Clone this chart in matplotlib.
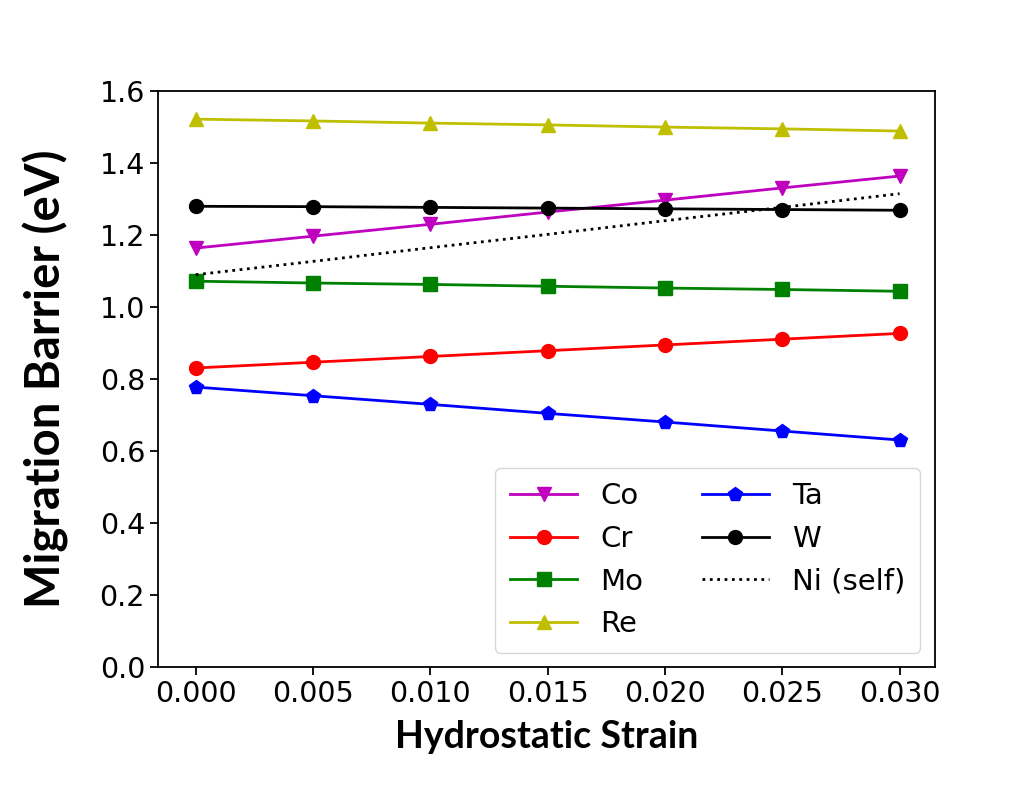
import numpy as np
import matplotlib.pyplot as plt

strain = [0.000, 0.005, 0.010, 0.015, 0.020, 0.025, 0.030]

co = [1.164, 1.197, 1.230, 1.264, 1.297, 1.331, 1.364]
cr = [0.831, 0.847, 0.863, 0.879, 0.895, 0.911, 0.927]
mo = [1.072, 1.067, 1.063, 1.058, 1.053, 1.049, 1.044]
re = [1.522, 1.517, 1.511, 1.506, 1.500, 1.495, 1.489]
ta = [0.778, 0.754, 0.730, 0.705, 0.681, 0.656, 0.631]
w = [1.280, 1.279, 1.277, 1.275, 1.273, 1.271, 1.269]
ni = [1.090, 1.127, 1.165, 1.202, 1.240, 1.277, 1.315]

fig = plt.figure(figsize=(10.34, 7.85), dpi=100)
ax = fig.add_axes([0.153, 0.150, 0.751, 0.734])

ms = 10
lw = 2
ax.plot(strain, co, 'm-v', label='Co', ms=ms, lw=lw)
ax.plot(strain, cr, 'r-o', label='Cr', ms=ms, lw=lw)
ax.plot(strain, mo, 'g-s', label='Mo', ms=ms, lw=lw)
ax.plot(strain, re, 'y-^', label='Re', ms=ms, lw=lw)
ax.plot(strain, ta, 'b-p', label='Ta', ms=ms, lw=lw)
ax.plot(strain, w, 'k-o', label='W', ms=ms, lw=lw)
ax.plot(strain, ni, 'k:', label='Ni (self)', lw=lw)

ax.set_ylim(0, 1.6)
ax.set_xlim(-0.0016, 0.0315)
ax.set_xticks(strain)
ax.set_yticks(np.arange(0, 1.61, 0.2))
ax.tick_params(labelsize=20.5, width=1.3, length=6)
for s in ax.spines.values():
    s.set_linewidth(1.3)

ax.set_xlabel('Hydrostatic Strain', fontsize=27, fontweight='bold', family='Lato', labelpad=8)
ax.set_ylabel('Migration Barrier (eV)', fontsize=34, fontweight='bold', family='Lato', labelpad=22)

ax.legend(loc='lower right', ncol=2, fontsize=21, handlelength=2.3,
          columnspacing=2.0, labelspacing=0.5, borderpad=0.5)

fig.savefig('out.png', dpi=100)
